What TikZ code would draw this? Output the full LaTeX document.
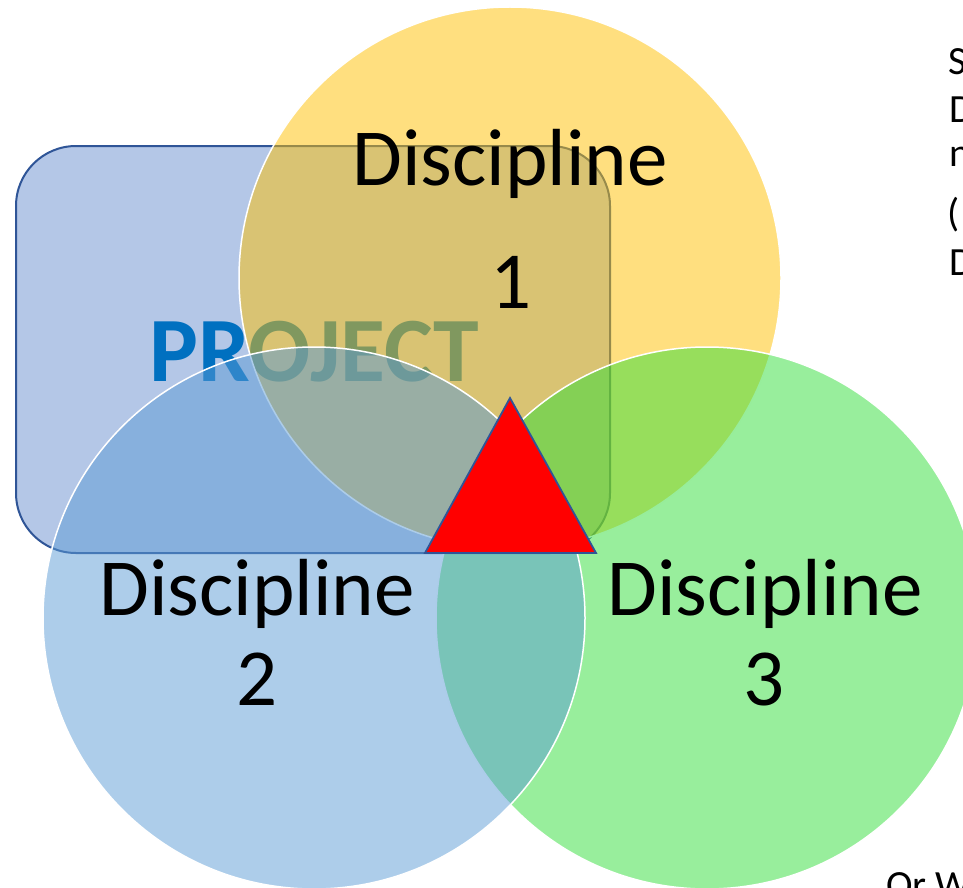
\documentclass[tikz,border=0pt]{standalone}
\usepackage{fontspec}
\setmainfont{Carlito}
\definecolor{rectfill}{RGB}{180,199,231}
\definecolor{rectline}{RGB}{47,85,151}
\definecolor{goldacc}{RGB}{255,192,0}
\definecolor{blueacc}{RGB}{91,155,213}
\definecolor{greenacc}{RGB}{49,221,57}
\definecolor{projblue}{RGB}{0,112,192}
\begin{document}
\begin{tikzpicture}[x=1pt,y=-1pt,
  ring/.style={circle, draw=white, line width=1.5pt, fill opacity=0.5,
    minimum size=542pt, inner sep=0pt},
  biglabel/.style={font=\fontsize{81}{97}\selectfont, anchor=base, inner sep=0pt},
  sidetext/.style={font=\fontsize{40}{48}\selectfont, anchor=base west, inner sep=0pt}]
\useasboundingbox (0,0) rectangle (963,888);
\begin{scope}
  \clip (0,0) rectangle (963,888);
  % project frame with its title
  \node[draw=rectline, line width=2pt, fill=rectfill, rounded corners=60pt,
        minimum width=594pt, minimum height=407pt, inner sep=0pt] (proj) at (313,349.5) {};
  \node[font=\bfseries\fontsize{92}{100}\selectfont, text=projblue, anchor=base,
        inner sep=0pt] (projtitle) at (314,381) {PROJECT};
  % three overlapping disciplines
  \node[ring, fill=goldacc] (c1) at (510,278) {};
  \node[ring, fill=greenacc] (c3) at (707,618) {};
  \node[ring, fill=blueacc] (c2) at (314,618) {};
  % central triangle
  \coordinate (ta) at (510,398);
  \coordinate (tl) at (425,553);
  \coordinate (tr) at (596,553);
  \draw[rectline, line width=1.8pt, fill=red, line join=miter] (ta) -- (tl) -- (tr) -- cycle;
  % labels
  \node[biglabel] (d1a) at (510,185) {Discipline};
  \node[biglabel] (d1b) at (511,308) {1};
  \node[biglabel] (d2a) at (257,615) {Discipline};
  \node[biglabel] (d2b) at (257,705) {2};
  \node[biglabel] (d3a) at (765,615) {Discipline};
  \node[biglabel] (d3b) at (764,705) {3};
  % side notes running off the edge
  \node[sidetext] (s1) at (948,75) {S};
  \node[sidetext] (s2) at (949,122) {D};
  \node[sidetext] (s3) at (949,166) {n};
  \node[sidetext] (s4) at (947,226) {(};
  \node[sidetext] (s5) at (949,275) {D};
  \node[sidetext] (s6) at (886,898) {Or W};
\end{scope}
\end{tikzpicture}
\end{document}
